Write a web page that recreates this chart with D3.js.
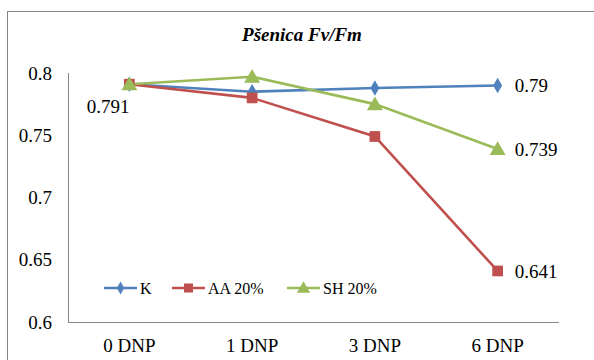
<!DOCTYPE html>
<html>
<head>
<meta charset="utf-8">
<title>Pšenica Fv/Fm</title>
<script src="https://d3js.org/d3.v7.min.js"></script>
</head>
<body style="margin:0; background:#fff">
<svg width="594" height="360"></svg>
<script>
    // data
    var categories = ["0 DNP", "1 DNP", "3 DNP", "6 DNP"];
    var seriesNames = ["K", "AA 20%", "SH 20%"];
    var valuesK = [0.791, 0.785, 0.788, 0.79];
    var valuesAA = [0.791, 0.780, 0.749, 0.641];
    var valuesSH = [0.791, 0.797, 0.775, 0.739];
    var yTicks = [0.6, 0.65, 0.7, 0.75, 0.8];
    // which points carry a value label, and where
    var labels = [
        { s: 0, i: 0, side: "below" },
        { s: 0, i: 3, side: "right" },
        { s: 2, i: 3, side: "right" },
        { s: 1, i: 3, side: "right" }
    ];

    var FONT = "'Liberation Serif'";

    var series = [
        { name: seriesNames[0], values: valuesK, color: "#4F81BD", symbol: d3.symbolDiamond, size: 70 },
        { name: seriesNames[1], values: valuesAA, color: "#C0504D", symbol: d3.symbolSquare, size: 115 },
        { name: seriesNames[2], values: valuesSH, color: "#9BBB59", symbol: d3.symbolTriangle, size: 110 }
    ];

    var svg = d3.select("svg");

    // chart frame (runs off the right and bottom edge)
    svg.append("rect")
       .attr("x", 7.5).attr("y", 11.5)
       .attr("width", 700).attr("height", 400)
       .attr("fill", "none")
       .attr("stroke", "#868686")
       .attr("stroke-width", 1);

    svg.append("text")
       .attr("x", 302)
       .attr("y", 41)
       .attr("text-anchor", "middle")
       .style("font-family", FONT)
       .style("font-size", "19px")
       .style("font-weight", "bold")
       .style("font-style", "italic")
       .text("Pšenica Fv/Fm");

    var plotLeft = 68, plotRight = 559, plotTop = 73, plotBottom = 322;

    var x = d3.scaleBand().domain(categories).range([plotLeft, plotRight]);
    var y = d3.scaleLinear().domain([0.6, 0.8]).range([plotBottom, plotTop]);
    var cx = function(i) { return x(categories[i]) + x.bandwidth() / 2; };

    // y axis
    var yAxis = svg.append("g")
       .attr("transform", "translate(" + plotLeft + ",0)")
       .call(d3.axisLeft(y).tickValues(yTicks).tickSize(0).tickPadding(16)
             .tickFormat(function(d) { return String(+d.toFixed(2)); }));
    yAxis.attr("font-family", null);
    yAxis.select(".domain").attr("stroke", "#868686").attr("d", "M0.5," + plotTop + "V" + (plotBottom + 0.5));
    yAxis.selectAll("text").style("font-family", FONT).style("font-size", "19px").attr("fill", "#000");

    // x axis
    var xAxis = svg.append("g")
       .attr("transform", "translate(0," + plotBottom + ")")
       .call(d3.axisBottom(x).tickSize(0).tickPadding(17));
    xAxis.attr("font-family", null);
    xAxis.select(".domain").attr("stroke", "#868686").attr("d", "M" + plotLeft + ",0.5H" + plotRight);
    xAxis.selectAll("text").style("font-family", FONT).style("font-size", "19px").attr("fill", "#000");

    var line = d3.line()
       .x(function(d, i) { return cx(i); })
       .y(function(d) { return y(d); });

    series.forEach(function(s) {
        svg.append("path")
           .attr("d", line(s.values))
           .attr("fill", "none")
           .attr("stroke", s.color)
           .attr("stroke-width", 2.6);
    });

    series.forEach(function(s) {
        svg.selectAll(null)
           .data(s.values)
           .enter().append("path")
           .attr("d", d3.symbol().type(s.symbol).size(s.size))
           .attr("transform", function(d, i) {
               var dy = s.symbol === d3.symbolTriangle ? 1.5 : 0;
               return "translate(" + cx(i) + "," + (y(d) + dy) + ")";
           })
           .attr("fill", s.color);
    });

    // value labels
    labels.forEach(function(l) {
        var v = series[l.s].values[l.i];
        var t = svg.append("text")
           .style("font-family", FONT)
           .style("font-size", "19px")
           .text(String(v));
        if (l.side === "right") {
            t.attr("x", cx(l.i) + 17).attr("y", y(v)).attr("dy", "0.35em");
        } else {
            t.attr("x", cx(l.i)).attr("y", y(v) + 22).attr("dy", "0.35em").attr("text-anchor", "end");
        }
    });

    // legend
    var legendX = [104, 172, 287];
    var legendY = 288;
    series.forEach(function(s, k) {
        var g = svg.append("g").attr("transform", "translate(" + legendX[k] + "," + legendY + ")");
        g.append("line")
         .attr("x1", 0).attr("x2", 33)
         .attr("y1", 0).attr("y2", 0)
         .attr("stroke", s.color)
         .attr("stroke-width", 2.6);
        g.append("path")
         .attr("d", d3.symbol().type(s.symbol).size(s.size * 0.7))
         .attr("transform", "translate(16.5," + (s.symbol === d3.symbolTriangle ? 1 : 0) + ")")
         .attr("fill", s.color);
        g.append("text")
         .attr("x", 36)
         .attr("y", 0)
         .attr("dy", "0.35em")
         .style("font-family", FONT)
         .style("font-size", "16px")
         .text(s.name);
    });
</script>
</body>
</html>
